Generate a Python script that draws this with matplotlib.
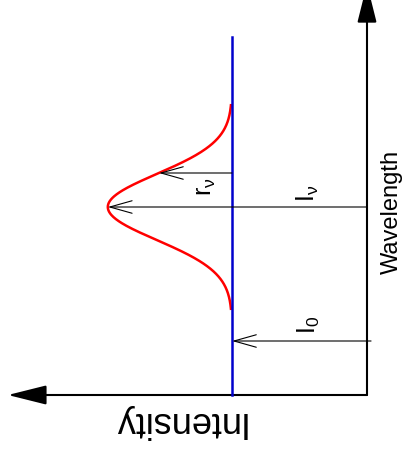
import matplotlib
matplotlib.use('Agg')
import matplotlib.pyplot as plt
import numpy as np

plt.rcParams['font.family'] = ['Liberation Sans', 'DejaVu Sans']
plt.rcParams['mathtext.fontset'] = 'custom'
plt.rcParams['mathtext.rm'] = 'Liberation Sans'
plt.rcParams['mathtext.it'] = 'Liberation Sans'

# continuum and emission line (intensity runs to the left, wavelength upwards)
continuum = 1.0
line_peak = 0.92          # height of the line above the continuum
line_center = 1.88        # wavelength of the line centre
line_sigma = 0.33         # gaussian width
line_halfwidth = 1.03     # profile is drawn out to this distance from centre
continuum_top = 3.58

# wavelengths where the arrows are drawn
lam_I0 = 0.54
lam_rv = 2.22

# axis ends
int_axis_end = 2.66
wl_axis_end = 4.11


def profile(lam):
    return continuum + line_peak * np.exp(-(lam - line_center) ** 2 / (2 * line_sigma ** 2))


def main():
    fig = plt.figure(figsize=(4.06, 4.57), dpi=100)
    ax = fig.add_axes([0, 0, 1, 1])
    ax.set_xlim(2.7185, -0.2889)
    ax.set_ylim(-0.62, 3.95)
    ax.axis('off')

    # axes with filled arrow heads
    head = dict(arrowstyle='-|>,head_length=2.4,head_width=0.6', color='black',
                lw=1.5, mutation_scale=10, shrinkA=0, shrinkB=0)
    ax.annotate('', xy=(int_axis_end, 0), xytext=(0, 0), arrowprops=head, annotation_clip=False)
    ax.annotate('', xy=(0, wl_axis_end), xytext=(0, 0), arrowprops=head, annotation_clip=False)

    # line profile
    lam = np.linspace(line_center - line_halfwidth, line_center + line_halfwidth, 400)
    ax.plot(profile(lam), lam, color='red', lw=1.8, zorder=3, solid_capstyle='butt')

    # continuum level
    ax.plot([continuum, continuum], [0, continuum_top], color='#0000cc', lw=1.8, zorder=4)

    # open-headed arrows
    thin = dict(arrowstyle='->,head_length=1.6,head_width=0.45', color='black',
                lw=0.8, mutation_scale=10, shrinkA=0, shrinkB=0)
    ax.annotate('', xy=(profile(line_center), line_center), xytext=(0, line_center),
                arrowprops=thin, zorder=5)
    ax.annotate('', xy=(continuum, lam_I0), xytext=(-0.03, lam_I0), arrowprops=thin, zorder=5)
    ax.annotate('', xy=(profile(lam_rv), lam_rv), xytext=(continuum, lam_rv),
                arrowprops=thin, zorder=5)

    # labels
    ax.text(0.437, 2.02, r'$\mathregular{I_\nu}$', rotation=90, fontsize=18,
            ha='center', va='center')
    ax.text(1.193, 2.08, r'$\mathregular{r_\nu}$', rotation=90, fontsize=18,
            ha='center', va='center')
    ax.text(0.43, 0.70, r'$\mathregular{I_0}$', rotation=90, fontsize=18,
            ha='center', va='center')
    ax.text(-0.185, 1.83, 'Wavelength', rotation=90, fontsize=17,
            ha='center', va='center')
    ax.text(1.40, -0.26, 'Intensity', rotation=180, fontsize=26,
            ha='center', va='center')

    fig.savefig('out.png', dpi=100)


if __name__ == "__main__":
    main()
